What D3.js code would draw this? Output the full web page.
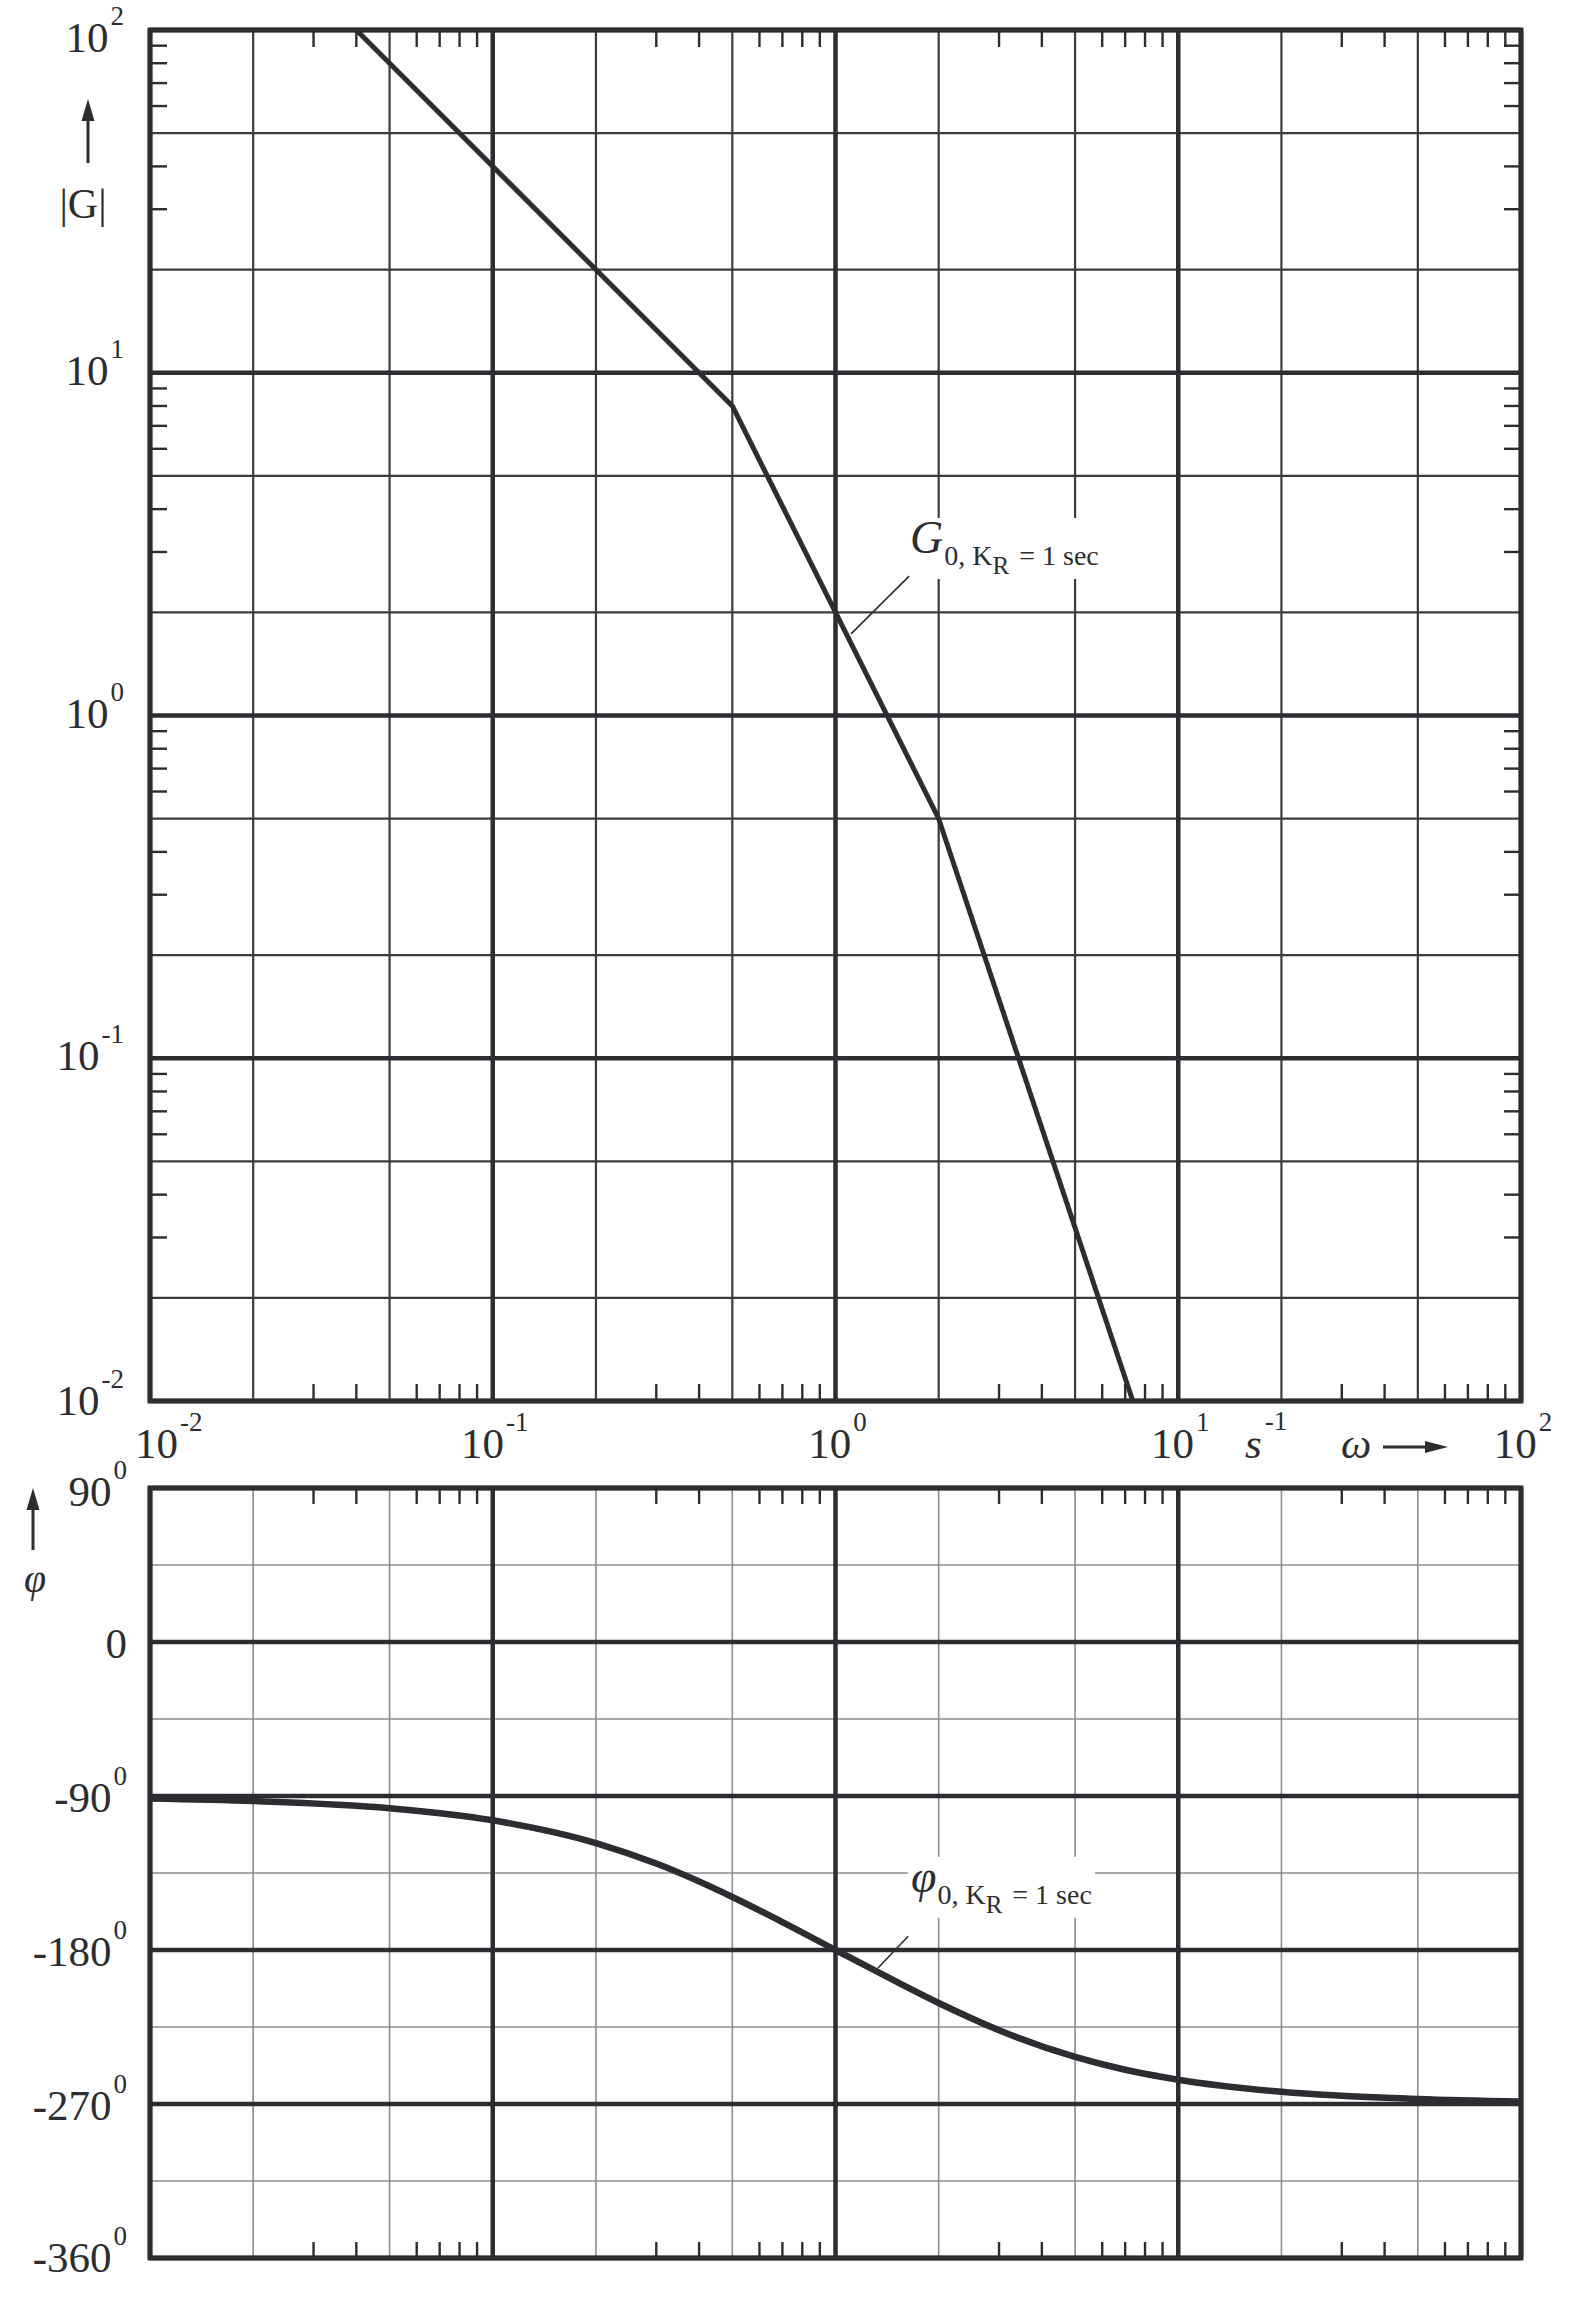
<!DOCTYPE html>
<html><head><meta charset="utf-8">
<script src="https://cdn.jsdelivr.net/npm/d3@7/dist/d3.min.js"></script>
<style>
body{margin:0;background:#fff}
text{font-family:"Liberation Serif","DejaVu Serif",serif;fill:#2b2d31}
</style>
</head><body>
<svg id="c" width="1586" height="2305"></svg>
<script>
// ---- data ----
const magOmega = [0.04, 0.5, 2, 7.37];          // asymptotic break points (s^-1)
const magValue = [100, 8, 0.5, 0.01];           // |G|
const phaseOmega = [0.01,0.02,0.05,0.1,0.2,0.3,0.5,0.7,1,1.5,2,3,5,7,10,20,50,100];
const phaseValue = [-91.4,-92.9,-97.1,-104.2,-117.5,-129.5,-149.0,-163.7,-180,-198.4,-211.0,-226.9,-242.5,-250.0,-255.8,-262.9,-267.1,-268.6];
const xDecadeExps = [-2,-1,0,1,2];
const magDecadeExps = [2,1,0,-1,-2];
const phaseMajor = [90,0,-90,-180,-270,-360];
const phaseMinor = [45,-45,-135,-225,-315];
const phaseTickText = ["90","0","-90","-180","-270","-360"];
const phaseTickSup = ["0","","0","0","0","0"];
const gridMult = [2,5];
const tickMult = [3,4,6,7,8,9];
const magAnnot = {base:"G", sub:"0, K", subsub:"R", rest:"= 1 sec"};
const phaseAnnot = {base:"φ", sub:"0, K", subsub:"R", rest:"= 1 sec"};

// ---- layout ----
const L = 150, R = 1521;
const T1 = 30, B1 = 1401;
const T2 = 1488, B2 = 2258;
const ink = "#2b2d31";

const svg = d3.select("#c");
svg.append("rect").attr("width",1586).attr("height",2305).attr("fill","#fff");

const x = d3.scaleLog().domain([0.01,100]).range([L,R]);
const yM = d3.scaleLog().domain([0.01,100]).range([B1,T1]);
const yP = d3.scaleLinear().domain([-360,90]).range([B2,T2]);

const decades = xDecadeExps.map(e => Math.pow(10,e));
const lowerDecades = decades.slice(0,-1);
const xGrid = lowerDecades.flatMap(d => gridMult.map(m => m*d));
const xTicks = lowerDecades.flatMap(d => tickMult.map(m => m*d));
const magDecades = magDecadeExps.map(e => Math.pow(10,e));
const magLower = magDecades.filter(d => d < 100);
const yGrid = magLower.flatMap(d => gridMult.map(m => m*d));
const yTicks = magLower.flatMap(d => tickMult.map(m => m*d));

const gGrid = svg.append("g");
const gBg = svg.append("g");
const gFrame = svg.append("g");
const gCurve = svg.append("g");
const gText = svg.append("g");

function vlines(g, vals, sc, y0, y1, w, col){
  g.selectAll(null).data(vals).enter().append("line")
   .attr("x1",d=>sc(d)).attr("x2",d=>sc(d)).attr("y1",y0).attr("y2",y1)
   .attr("stroke",col).attr("stroke-width",w);
}
function hlines(g, vals, sc, x0, x1, w, col){
  g.selectAll(null).data(vals).enter().append("line")
   .attr("y1",d=>sc(d)).attr("y2",d=>sc(d)).attr("x1",x0).attr("x2",x1)
   .attr("stroke",col).attr("stroke-width",w);
}

// --- top plot grid ---
vlines(gGrid, xGrid, x, T1, B1, 2.2, "#3a3c40");
hlines(gGrid, yGrid, yM, L, R, 2.2, "#3a3c40");
vlines(gGrid, decades, x, T1, B1, 4.5, ink);
hlines(gGrid, magDecades, yM, L, R, 4.5, ink);
const tl = 17;
xTicks.forEach(v=>{
  gFrame.append("line").attr("x1",x(v)).attr("x2",x(v)).attr("y1",T1).attr("y2",T1+tl).attr("stroke",ink).attr("stroke-width",2.4);
  gFrame.append("line").attr("x1",x(v)).attr("x2",x(v)).attr("y1",B1).attr("y2",B1-tl).attr("stroke",ink).attr("stroke-width",2.4);
});
yTicks.forEach(v=>{
  gFrame.append("line").attr("y1",yM(v)).attr("y2",yM(v)).attr("x1",L).attr("x2",L+tl).attr("stroke",ink).attr("stroke-width",2.4);
  gFrame.append("line").attr("y1",yM(v)).attr("y2",yM(v)).attr("x1",R).attr("x2",R-tl).attr("stroke",ink).attr("stroke-width",2.4);
});
gFrame.append("rect").attr("x",L).attr("y",T1).attr("width",R-L).attr("height",B1-T1)
  .attr("fill","none").attr("stroke",ink).attr("stroke-width",5);

// --- bottom plot grid ---
vlines(gGrid, xGrid, x, T2, B2, 1.6, "#8a8c90");
hlines(gGrid, phaseMinor, yP, L, R, 1.6, "#8a8c90");
vlines(gGrid, decades, x, T2, B2, 4.5, ink);
hlines(gGrid, phaseMajor, yP, L, R, 4.5, ink);
xTicks.forEach(v=>{
  gFrame.append("line").attr("x1",x(v)).attr("x2",x(v)).attr("y1",T2).attr("y2",T2+16).attr("stroke",ink).attr("stroke-width",2.4);
  gFrame.append("line").attr("x1",x(v)).attr("x2",x(v)).attr("y1",B2).attr("y2",B2-16).attr("stroke",ink).attr("stroke-width",2.4);
});
gFrame.append("rect").attr("x",L).attr("y",T2).attr("width",R-L).attr("height",B2-T2)
  .attr("fill","none").attr("stroke",ink).attr("stroke-width",5);

// --- curves ---
const magData = magOmega.map((w,i)=>({w, v:magValue[i]}));
gCurve.append("path").datum(magData)
  .attr("d", d3.line().x(d=>x(d.w)).y(d=>yM(d.v)))
  .attr("fill","none").attr("stroke",ink).attr("stroke-width",5).attr("stroke-linejoin","round");
const phData = phaseOmega.map((w,i)=>({w, v:phaseValue[i]}));
gCurve.append("path").datum(phData)
  .attr("d", d3.line().curve(d3.curveMonotoneX).x(d=>x(d.w)).y(d=>yP(d.v)))
  .attr("fill","none").attr("stroke",ink).attr("stroke-width",6.5);

// --- tick labels ---
function expLabel(g, xx, yy, base, sup, anchor, fs, sfs, rise){
  const t = g.append("text").attr("x",xx).attr("y",yy).attr("text-anchor",anchor).attr("font-size",fs);
  t.append("tspan").text(base);
  if(sup) t.append("tspan").attr("dy",-rise).attr("font-size",sfs).attr("dx",2).text(sup);
  return t;
}
magDecadeExps.forEach(e=>{
  const v = Math.pow(10,e);
  let by = yM(v) + 12;
  if (by < 52) by = 52;
  if (e === -2) by = yM(v) + 14;
  expLabel(gText, 124, by, "10", String(e), "end", 43, 27, 27);
});
xDecadeExps.forEach((e,i)=>{
  const v = Math.pow(10,e);
  if (i===0) expLabel(gText, x(v)-15, 1458, "10", String(e), "start", 43, 27, 27);
  else expLabel(gText, x(v)+2, 1458, "10", String(e), "middle", 43, 27, 27);
});
phaseMajor.forEach((p,i)=>{
  let by = yP(p) + 16;
  if (i===0) by = 1506;
  if (i===phaseMajor.length-1) by = yP(p)+14;
  expLabel(gText, 127, by, phaseTickText[i], phaseTickSup[i], "end", 43, 27, 27);
});

const su = gText.append("text").attr("x",1245).attr("y",1458).attr("font-size",43);
su.append("tspan").attr("font-style","italic").text("s");
su.append("tspan").attr("dy",-28).attr("font-size",27).attr("dx",3).text("-1");
gText.append("text").attr("x",1341).attr("y",1458).attr("font-size",43).attr("font-style","italic").text("ω");
function arrow(g, x1,y1,x2,y2, hl, hw){
  const ang = Math.atan2(y2-y1,x2-x1);
  const bx = x2 - hl*Math.cos(ang), by = y2 - hl*Math.sin(ang);
  g.append("line").attr("x1",x1).attr("y1",y1).attr("x2",bx).attr("y2",by).attr("stroke",ink).attr("stroke-width",3);
  const px = -Math.sin(ang)*hw, py = Math.cos(ang)*hw;
  g.append("path").attr("d",`M${x2},${y2}L${bx+px},${by+py}L${bx-px},${by-py}Z`).attr("fill",ink);
}
arrow(gText, 1383,1447,1448,1447, 23, 6);
arrow(gText, 88,163,88,99, 22, 6.5);
arrow(gText, 33,1550,33,1488, 22, 6.5);
gText.append("text").attr("x",83).attr("y",218).attr("font-size",42).attr("text-anchor","middle").text("|G|");
gText.append("text").attr("x",35).attr("y",1592).attr("font-size",40).attr("font-style","italic").attr("text-anchor","middle").text("φ");

// --- annotations ---
function annot(a, xx, yy, fsBig){
  const t = gText.append("text").attr("x",xx).attr("y",yy);
  t.append("tspan").attr("font-size",fsBig).attr("font-style","italic").text(a.base);
  t.append("tspan").attr("font-size",28).attr("dy",12).attr("dx",1).text(a.sub);
  t.append("tspan").attr("font-size",25).attr("dy",9).text(a.subsub);
  t.append("tspan").attr("font-size",28).attr("dy",-9).attr("dx",10).text(a.rest);
  const bb = t.node().getBBox();
  gBg.append("rect").attr("x",bb.x-3).attr("y",bb.y+6).attr("width",bb.width+6).attr("height",bb.height-6).attr("fill","#fff");
  return t;
}
annot(magAnnot, x(1.65), yM(2.98), 46);
annot(phaseAnnot, x(1.66), yP(-146), 46);
gCurve.append("line").attr("x1",x(1.64)).attr("y1",yM(2.55)).attr("x2",x(1.11)).attr("y2",yM(1.73)).attr("stroke",ink).attr("stroke-width",1.6);
gCurve.append("line").attr("x1",x(1.63)).attr("y1",yP(-172)).attr("x2",x(1.33)).attr("y2",yP(-190.5)).attr("stroke",ink).attr("stroke-width",1.6);
</script>
</body></html>
